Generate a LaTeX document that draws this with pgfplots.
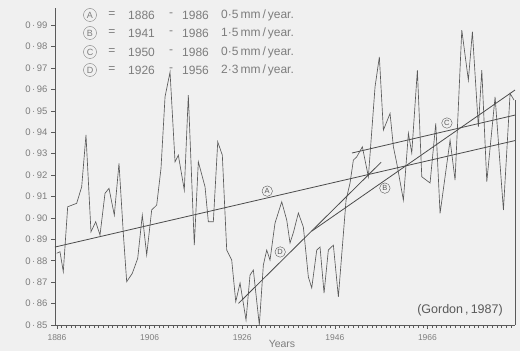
\documentclass[border=0pt]{standalone}
\usepackage{fontspec}
\setmainfont{Liberation Sans}
\usepackage{pgfplots}
\pgfplotsset{compat=1.18}
\definecolor{bg}{RGB}{240,240,240}
\definecolor{ink}{RGB}{90,90,90}
\definecolor{trend}{RGB}{75,75,75}
\definecolor{txt}{RGB}{125,125,125}
\begin{document}
\begin{tikzpicture}[x=1pt,y=1pt]
\path[use as bounding box, fill=bg] (0,0) rectangle (520,351);
\begin{axis}[
  at={(55pt,26pt)}, anchor=south west,
  scale only axis, width=460pt, height=317pt,
  xmin=1885.57, xmax=1984.9, ymin=0.85, ymax=0.998,
  axis x line*=bottom, axis y line*=left,
  axis line style={ink, line width=0.7pt},
  xtick={1886,1906,1926,1946,1966,1986},
  xticklabels={1886,1906,1926,1946,1966,1986},
  minor x tick num=19,
  ytick={0.85,0.86,0.87,0.88,0.89,0.90,0.91,0.92,0.93,0.94,0.95,0.96,0.97,0.98,0.99},
  yticklabels={0\,·\,85,0\,·\,86,0\,·\,87,0\,·\,88,0\,·\,89,0\,·\,90,0\,·\,91,0\,·\,92,0\,·\,93,0\,·\,94,0\,·\,95,0\,·\,96,0\,·\,97,0\,·\,98,0\,·\,99},
  tick align=outside,
  major tick length=4pt, minor tick length=3pt,
  tick style={ink, line width=0.5pt},
  xticklabel style={font=\fontsize{8.5}{9}\selectfont, text=txt, yshift=-2pt},
  yticklabel style={font=\fontsize{9.5}{10}\selectfont, text=txt},
  clip=false,
]
\addplot[ink, line width=0.65pt] coordinates {
(1885.94,0.8835) (1886.65,0.8842) (1887.36,0.8749) (1888.31,0.9052) (1890.25,0.9068)
(1891.33,0.9145) (1892.26,0.9387) (1893.34,0.8935) (1894.36,0.8982) (1895.29,0.8920)
(1896.37,0.9115) (1897.23,0.9138) (1898.38,0.9013) (1899.39,0.9255) (1900.32,0.8928)
(1901.05,0.8702) (1902.26,0.8741) (1903.43,0.8811) (1904.42,0.9013) (1905.37,0.8827)
(1906.45,0.9037) (1907.53,0.9060) (1908.46,0.9231) (1909.33,0.9565) (1910.41,0.9681)
(1911.49,0.9262) (1912.20,0.9293) (1913.49,0.9130) (1914.36,0.9573) (1915.65,0.8873)
(1916.52,0.9262) (1917.97,0.9145) (1918.68,0.8982) (1919.76,0.8982) (1920.71,0.9355)
(1921.70,0.9293) (1922.65,0.8850) (1923.73,0.8803) (1924.60,0.8609) (1925.53,0.8696)
(1926.82,0.8523) (1927.68,0.8733) (1928.40,0.8757) (1929.69,0.8500) (1930.56,0.8780)
(1931.29,0.8850) (1932.00,0.8803) (1933.08,0.8976) (1934.53,0.9075) (1935.61,0.8990)
(1936.32,0.8883) (1937.08,0.8934) (1938.12,0.9023) (1939.20,0.8957) (1940.28,0.8724)
(1941.01,0.8673) (1942.09,0.8850) (1942.80,0.8864) (1943.67,0.8649) (1944.60,0.8850)
(1945.68,0.8873) (1946.76,0.8631) (1948.42,0.9083) (1949.28,0.9163) (1950.00,0.9270)
(1950.73,0.9285) (1951.94,0.9332) (1953.24,0.9192) (1954.68,0.9612) (1955.61,0.9752)
(1956.48,0.9410) (1957.92,0.9488) (1958.64,0.9332) (1959.37,0.9255) (1960.80,0.9083)
(1961.88,0.9395) (1962.61,0.9303) (1963.82,0.9690) (1964.77,0.9192) (1966.56,0.9163)
(1967.79,0.9441) (1968.72,0.9021) (1970.88,0.9363) (1971.96,0.9177) (1973.41,0.9877)
(1974.83,0.9643) (1975.70,0.9869) (1976.99,0.9425) (1977.73,0.9690) (1978.81,0.9169)
(1980.60,0.9565) (1982.40,0.9037) (1983.84,0.9581) (1984.70,0.9550)
};
% trend lines A, B, C, D
\addplot[trend, line width=0.8pt] coordinates {(1885.57,0.8864) (1984.9,0.9361)};
\addplot[trend, line width=0.8pt] coordinates {(1941.0,0.8938) (1984.9,0.9597)};
\addplot[trend, line width=0.8pt] coordinates {(1949.7,0.9303) (1984.9,0.9480)};
\addplot[trend, line width=0.8pt] coordinates {(1925.2,0.8601) (1956.0,0.9260)};
% right frame line
\draw[ink, line width=0.7pt] (axis cs:1984.9,0.85) -- (axis cs:1984.9,0.955);
% circled line labels
\tikzset{lab/.style={draw=ink, circle, inner sep=0pt, minimum size=10.5pt, text=ink, font=\fontsize{7.5}{7.5}\selectfont}}
\node[lab] at (axis cs:1931.4,0.9125) {A};
\node[lab] at (axis cs:1934.2,0.8841) {D};
\node[lab] at (axis cs:1956.8,0.9139) {B};
\node[lab] at (axis cs:1970.2,0.9443) {C};
\end{axis}
% legend block
\tikzset{circ/.style={draw=txt, circle, inner sep=0pt, minimum size=13pt, text=txt, font=\fontsize{9}{9}\selectfont},
         lt/.style={text=txt, font=\fontsize{12}{12}\selectfont, inner sep=0pt}}
\foreach \yy/\L/\a/\b/\r in {336/A/1886/1986/0·5, 318/B/1941/1986/1·5, 299/C/1950/1986/0·5, 281/D/1926/1956/2·3}{
  \node[circ] at (90,\yy) {\L};
  \node[lt] at (112,\yy) {=};
  \node[lt, anchor=west] at (128,\yy) {\a};
  \node[lt] at (171,\yy) {-};
  \node[lt, anchor=west] at (182,\yy) {\b};
  \node[lt, anchor=west] at (221,\yy) {\r\,mm\,/\,year.};
}
\node[text=txt, font=\fontsize{10.5}{10.5}\selectfont] at (282,7) {Years};
\node[text=ink, font=\fontsize{12.5}{12.5}\selectfont] at (460,41) {(Gordon\,,\,1987)};
\end{tikzpicture}
\end{document}
